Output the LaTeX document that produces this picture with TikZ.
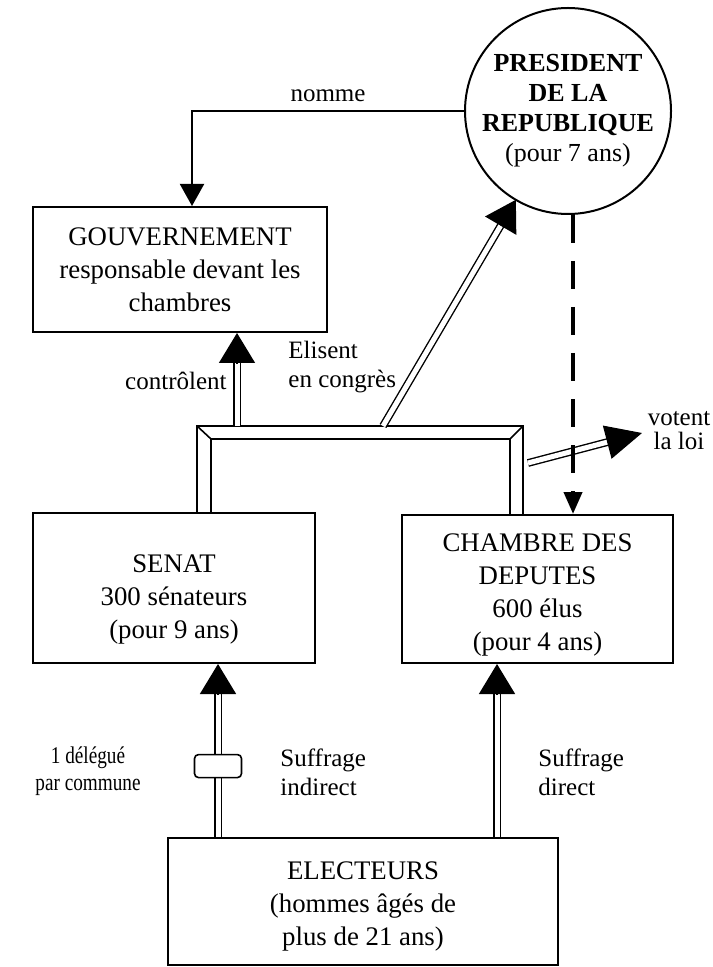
\documentclass[tikz,border=0pt]{standalone}
\usepackage{fontspec}
\setmainfont{Liberation Serif}
\usetikzlibrary{arrows.meta,calc,positioning}

\begin{document}
\begin{tikzpicture}[x = 0.5pt, y = -0.5pt, line join = miter,
  box/.style = {draw, line width = 1pt, align = center, inner sep = 0pt, font = \fontsize{13.4pt}{16.5pt}\selectfont},
  chief/.style = {draw, circle, line width = 1pt, minimum size = 103pt, inner sep = 0pt, align = center, font = \fontsize{13pt}{15pt}\selectfont},
  lbl/.style = {align = center, inner sep = 0pt, font = \fontsize{12.5pt}{14.5pt}\selectfont},
  dbl/.style = {double, double distance = 2.5pt, line width = 0.7pt},
  bigtip/.style = {-{Triangle[length = 15pt, width = 18pt]}, line width = 0.7pt},
  smalltip/.style = {-{Triangle[length = 11pt, width = 12pt]}, line width = 1pt},
  dashline/.style = {line width = 2pt, dash pattern = on 14pt off 9pt}]
\useasboundingbox (0,0) rectangle (712,967);

\node[chief] (pres) at (568,111) {\textbf{PRESIDENT}\\ \textbf{DE LA}\\ \textbf{REPUBLIQUE}\\ (pour 7 ans)};
\node[box, minimum width = 147pt, minimum height = 62.5pt] (gouv) at (180,269.5) {GOUVERNEMENT\\ responsable devant les\\ chambres};
\node[box, minimum width = 141pt, minimum height = 75pt] (senat) at (174,588) {\rule{0pt}{20pt}SENAT\\ 300 sénateurs\\ (pour 9 ans)};
\node[box, minimum width = 135.5pt, minimum height = 74pt] (chambre) at (537.5,589) {\rule{0pt}{15pt}CHAMBRE DES\\ DEPUTES\\ 600 élus\\ (pour 4 ans)};
\node[box, minimum width = 195pt, minimum height = 63.5pt] (elect) at (363,901.5) {\rule{0pt}{14pt}ELECTEURS\\ (hommes âgés de\\ plus de 21 ans)};

% the two chambers meeting in congress
\coordinate (oL) at (197,426);
\coordinate (oR) at (523,426);
\coordinate (iL) at (211,439);
\coordinate (iR) at (510,439);
\draw[line width = 1pt] (oL |- senat.north) -- (oL) -- (oR) -- (oR |- chambre.north);
\draw[line width = 1pt] (iL |- senat.north) -- (iL) -- (iR) -- (iR |- chambre.north);
\draw[line width = 0.8pt] (oL) -- (iL) (oR) -- (iR);

% nomme
\coordinate (nIn) at ($(gouv.north)+(6pt,0)$);
\draw[smalltip] (pres.west) -| node[lbl, pos = 0.25, above = 4pt] (nomme) {nomme} (nIn);

% controlent
\coordinate (gIn) at ($(gouv.south)+(28.5pt,0)$);
\draw[dbl] (gIn |- oL) -- ($(gIn)+(0,-14pt)$);
\draw[bigtip] ($(gIn)+(0,-15pt)$) -- (gIn);
\node[lbl, anchor = east] (ctrl) at (227,381) {contrôlent};

% elisent en congres
\coordinate (eOut) at (383,426);
\coordinate (eIn) at ($(pres)!51.5pt!(eOut)$);
\draw[dbl] (eOut) -- ($(eIn)!14pt!(eOut)$);
\draw[bigtip] ($(eIn)!15pt!(eOut)$) -- (eIn);
\node[lbl, align = left, anchor = west] (elis) at (288,367) {Elisent\\ en congrès};

% votent la loi
\coordinate (vOut) at (528,463);
\coordinate (vEnd) at (642,433);
\draw[dbl] (vOut) -- ($(vEnd)!17pt!(vOut)$);
\draw[-{Triangle[length = 18pt, width = 17pt]}, line width = 0.7pt] ($(vEnd)!18pt!(vOut)$) -- (vEnd);
\node[lbl, font = \fontsize{12.5pt}{12pt}\selectfont] (loi) at (679,431) {votent\\ la loi};

% dissolution
\coordinate (dOut) at ($(pres.south)+(2.5pt,0)$);
\draw[dashline, -{Triangle[length = 11pt, width = 9pt]}] (dOut) -- (dOut |- chambre.north);

% suffrage indirect
\coordinate (sIn) at ($(senat.south)+(22pt,0)$);
\draw[dbl] (sIn |- elect.north) -- ($(sIn)+(0,-14pt)$);
\draw[bigtip] ($(sIn)+(0,-15pt)$) -- (sIn);
\node[draw, rounded corners = 2pt, fill = white, line width = 0.8pt, minimum width = 23.5pt, minimum height = 11.5pt, inner sep = 0pt] (relay) at ($(sIn |- elect.north)!0.41!(sIn)$) {};
\node[lbl, font = \fontsize{12pt}{13.5pt}\selectfont\addfontfeatures{FakeStretch = 0.8}] (deleg) at (88,771) {1 délégué\\ par commune};
\node[lbl, align = left, anchor = west] (indir) at (280,772) {Suffrage\\ indirect};

% suffrage direct
\coordinate (cIn) at ($(chambre.south)+(-20.25pt,0)$);
\draw[dbl] (cIn |- elect.north) -- ($(cIn)+(0,-14pt)$);
\draw[bigtip] ($(cIn)+(0,-15pt)$) -- (cIn);
\node[lbl, align = left, anchor = west] (dir) at (538,772) {Suffrage\\ direct};
\end{tikzpicture}
\end{document}
